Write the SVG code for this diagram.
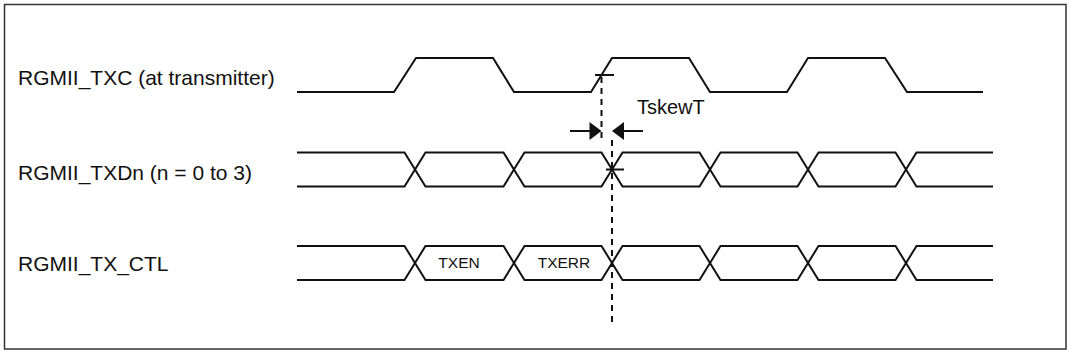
<svg xmlns="http://www.w3.org/2000/svg" width="1071" height="362" viewBox="0 0 1071 362">
<style>
.sig{fill:none;stroke:#111;stroke-width:2;stroke-linejoin:miter}
.lbl{font-family:"Liberation Sans",Arial,sans-serif;font-size:21px;fill:#111}
.in{font-family:"Liberation Sans",Arial,sans-serif;font-size:15.5px;fill:#111;text-anchor:middle}
.dash{fill:none;stroke:#111;stroke-width:2;stroke-dasharray:6 5}
.ar{fill:#111;stroke:none}
</style>
<rect x="4.5" y="4.5" width="1061.5" height="344.5" fill="#fff" stroke="#333" stroke-width="1.5"/>
<g id="txc">
<text class="lbl" x="18" y="85">RGMII_TXC (at transmitter)</text>
<path class="sig" d="M297,92 L394,92 L416,58 L493,58 L514,92 L591,92 L612,58 L689,58 L710,92 L787,92 L808,58 L885,58 L907,92 L983,92"/>
<line class="sig" x1="595" y1="75" x2="614" y2="75"/>
</g>
<g id="txd">
<text class="lbl" x="18" y="180">RGMII_TXDn (n = 0 to 3)</text>
<path class="sig" d="M297,152.5 L404.5,152.5 L425.5,186.5 L503.5,186.5 L524.5,152.5 L601.5,152.5 L622.5,186.5 L699.5,186.5 L720.5,152.5 L797.5,152.5 L818.5,186.5 L895.5,186.5 L916.5,152.5 L993,152.5"/>
<path class="sig" d="M297,186.5 L404.5,186.5 L425.5,152.5 L503.5,152.5 L524.5,186.5 L601.5,186.5 L622.5,152.5 L699.5,152.5 L720.5,186.5 L797.5,186.5 L818.5,152.5 L895.5,152.5 L916.5,186.5 L993,186.5"/>
<line class="sig" x1="606" y1="169.5" x2="624" y2="169.5"/>
</g>
<g id="txctl">
<text class="lbl" x="18" y="271">RGMII_TX_CTL</text>
<path class="sig" d="M297,246 L404.5,246 L425.5,280 L503.5,280 L524.5,246 L601.5,246 L622.5,280 L699.5,280 L720.5,246 L797.5,246 L818.5,280 L895.5,280 L916.5,246 L993,246"/>
<path class="sig" d="M297,280 L404.5,280 L425.5,246 L503.5,246 L524.5,280 L601.5,280 L622.5,246 L699.5,246 L720.5,280 L797.5,280 L818.5,246 L895.5,246 L916.5,280 L993,280"/>
<text class="in" x="459" y="267.5">TXEN</text>
<text class="in" x="564" y="267.5">TXERR</text>
</g>
<g id="connectors">
<line class="dash" x1="601.5" y1="77" x2="601.5" y2="142"/>
<line class="dash" x1="612" y1="140" x2="612" y2="327"/>
<line class="sig" x1="570" y1="131" x2="591" y2="131"/>
<polygon class="ar" points="589.5,122 601.5,131 589.5,140"/>
<line class="sig" x1="622" y1="131" x2="643" y2="131"/>
<polygon class="ar" points="624,122 612,131 624,140"/>
<text class="lbl" x="637" y="114" style="font-size:20px">TskewT</text>
</g>
</svg>
